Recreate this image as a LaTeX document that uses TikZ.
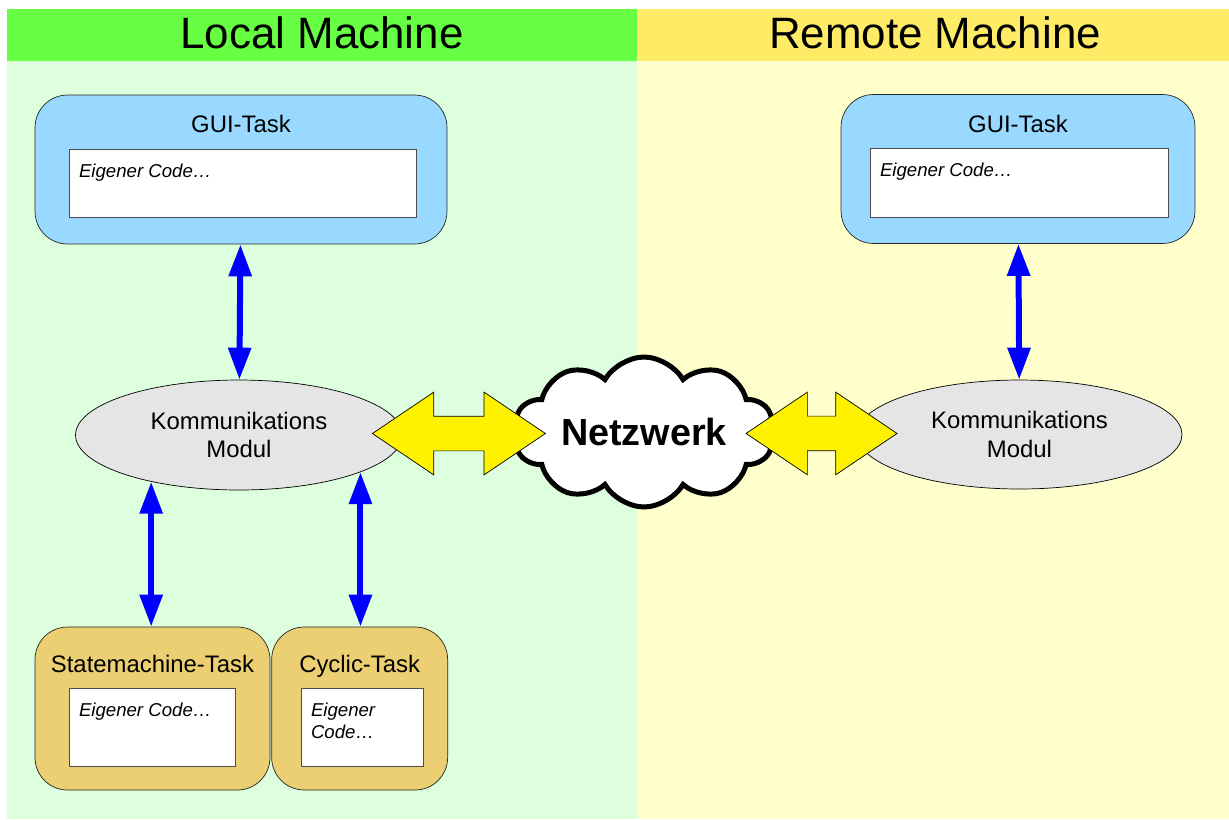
\documentclass[tikz,border=0pt]{standalone}
\usepackage{fontspec}
\setmainfont{Liberation Sans}
\usetikzlibrary{shapes.geometric,shapes.symbols,shapes.arrows,positioning,arrows.meta,calc}
\definecolor{localhead}{RGB}{102,255,68}
\definecolor{localbg}{RGB}{221,255,221}
\definecolor{remotehead}{RGB}{255,236,102}
\definecolor{remotebg}{RGB}{255,255,204}
\definecolor{guiblue}{RGB}{153,217,255}
\definecolor{tasktan}{RGB}{236,207,114}
\definecolor{modgray}{RGB}{229,229,229}
\tikzset{task/.style={draw=black!85, rounded corners=6.5mm, inner sep=0pt},
  gui/.style={task, fill=guiblue},
  cyc/.style={task, fill=tasktan},
  code/.style={draw=black!70, fill=white, inner sep=0pt},
  codetxt/.style={font=\fontsize{10.6}{12.5}\selectfont\itshape, anchor=north west, align=left, inner sep=0pt},
  tasklbl/.style={font=\fontsize{13.6}{16}\selectfont, anchor=base, inner sep=0pt},
  headlbl/.style={font=\fontsize{25}{30}\selectfont, anchor=base, inner sep=0pt},
  modul/.style={ellipse, draw, fill=modgray, align=center, inner sep=0pt, font=\fontsize{13.6}{16}\selectfont},
  netz/.style={cloud, draw, line width=1mm, fill=white, cloud puffs=10, cloud puff arc=120, cloud ignores aspect, inner sep=0pt, font=\fontsize{21.5}{26}\selectfont\bfseries},
  netarr/.style={double arrow, draw, fill=yellow, inner xsep=0pt, inner ysep=0.34cm, double arrow head extend=0.48cm, double arrow tip angle=68},
  bluearr/.style={<->, blue, line width=1.2mm}}
\begin{document}
\begin{tikzpicture}[x=0.02cm, y=-0.02cm, >={Triangle[length=6.4mm,width=4.4mm]}]
  \useasboundingbox (0,0) rectangle (1229,819);
  % two machines
  \fill[localbg] (7,9) rectangle (637,819);
  \fill[localhead] (7,9) rectangle (637,61);
  \fill[remotebg] (637,9) rectangle (1229,819);
  \fill[remotehead] (637,9) rectangle (1229,61);
  \node[headlbl] (ltitle) at (322,48) {Local Machine};
  \node[headlbl] (rtitle) at (935,48) {Remote Machine};

  % local machine
  \node[gui, minimum width=8.24cm, minimum height=2.98cm] (lgui) at (241,169.5) {};
  \node[tasklbl] (lguilbl) at ($(lgui.north)+(0,38)$) {GUI-Task};
  \node[code, minimum width=6.94cm, minimum height=1.36cm] (lguicode) at (242.5,183) {};
  \node[codetxt] (lguitxt) at ($(lguicode.north west)+(10,15)$) {Eigener Code\dots};

  \node[modul, minimum width=6.54cm, minimum height=2.2cm] (lmod) at (239,435) {Kommunikations\\Modul};

  \node[cyc, minimum width=4.7cm, minimum height=3.26cm] (sbox) at (152.5,708.5) {};
  \node[cyc, minimum width=3.52cm, minimum height=3.26cm, right=0.02cm of sbox] (cbox) {};
  \node[tasklbl] (slbl) at ($(sbox.north)+(0,46)$) {Statemachine-Task};
  \node[tasklbl] (clbl) at ($(cbox.north)+(0,46)$) {Cyclic-Task};
  \node[code, minimum width=3.32cm, minimum height=1.56cm] (scode) at (152,727) {};
  \node[code, minimum width=2.44cm, minimum height=1.56cm] (ccode) at (362,727) {};
  \node[codetxt] (stxt) at ($(scode.north west)+(10,15)$) {Eigener Code\dots};
  \node[codetxt] (ctxt) at ($(ccode.north west)+(10,15)$) {Eigener\\Code\dots};

  \draw[bluearr] (lgui) -- (lmod);
  \draw[bluearr] (lmod.208) -- (lmod.208 |- sbox.north);
  \draw[bluearr] (lmod.343) -- (lmod.343 |- cbox.north);

  % remote machine
  \node[gui, minimum width=7.08cm, minimum height=2.98cm] (rgui) at (1018,169) {};
  \node[tasklbl] (rguilbl) at ($(rgui.north)+(0,38)$) {GUI-Task};
  \node[code, minimum width=5.96cm, minimum height=1.38cm] (rguicode) at (1019,182.5) {};
  \node[codetxt] (rguitxt) at ($(rguicode.north west)+(10,15)$) {Eigener Code\dots};

  \node[modul, minimum width=6.5cm, minimum height=2.18cm] (rmod) at (1019.5,434.5) {Kommunikations\\Modul};

  \draw[bluearr] (rgui) -- (rmod);

  % network
  \node[netz, minimum width=5.2cm, minimum height=3.0cm] (net) at (644,432) {Netzwerk};
  \node[netarr, minimum height=3.46cm] (lnet) at ($(lmod.east)!0.5!(net.west)$) {};
  \node[netarr, minimum height=3.02cm] (rnet) at ($(net.east)!0.58!(rmod.west)$) {};
\end{tikzpicture}
\end{document}
